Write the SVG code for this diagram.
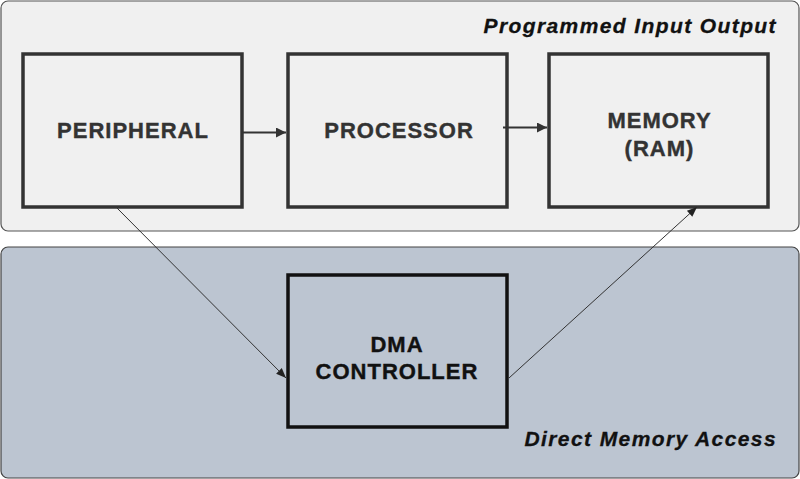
<svg xmlns="http://www.w3.org/2000/svg" width="800" height="479" viewBox="0 0 800 479">
<defs>
<style>
.lbl{font-family:"Liberation Sans",Arial,sans-serif;font-weight:bold;font-size:22px;letter-spacing:1px;text-anchor:middle;stroke-width:0.4px}
.ttl{font-family:"Liberation Sans",Arial,sans-serif;font-weight:bold;font-style:italic;font-size:21px;letter-spacing:1.4px;text-anchor:end;fill:#111;stroke:#111;stroke-width:0.3px}
.box{fill:none;stroke:#333;stroke-width:3.5}
.conn{stroke:#333;fill:none}
</style>
<marker id="ah" viewBox="0 0 10 10" refX="10" refY="5" markerWidth="10" markerHeight="10" markerUnits="userSpaceOnUse" orient="auto">
<path d="M0,0 L10,5 L0,10 Z" fill="#333"/>
</marker>
<marker id="ahs" viewBox="0 0 10 10" refX="10" refY="5" markerWidth="11" markerHeight="10" markerUnits="userSpaceOnUse" orient="auto">
<path d="M0,1 L10,5 L0,9 Z" fill="#222"/>
</marker>
</defs>
<g id="pio-group">
<rect x="1" y="1" width="798" height="230" rx="7" fill="#f0f0f0" stroke="#555" stroke-width="1.2"/>
<text class="ttl" x="777" y="32.5">Programmed Input Output</text>
</g>
<g id="dma-group">
<rect x="1" y="247" width="798" height="231" rx="7" fill="#bcc5d1" stroke="#444" stroke-width="1.2"/>
<text class="ttl" x="777" y="446">Direct Memory Access</text>
</g>
<g id="peripheral">
<rect class="box" x="23" y="54" width="219" height="153"/>
<text class="lbl" x="133" y="138" fill="#333" stroke="#333">PERIPHERAL</text>
</g>
<g id="processor">
<rect class="box" x="288" y="54" width="219" height="153"/>
<text class="lbl" x="399" y="138" fill="#333" stroke="#333">PROCESSOR</text>
</g>
<g id="memory">
<rect class="box" x="549" y="54" width="219" height="153"/>
<text class="lbl" x="659.5" y="128" fill="#333" stroke="#333">MEMORY</text>
<text class="lbl" x="659.5" y="156" fill="#333" stroke="#333">(RAM)</text>
</g>
<g id="dma-controller">
<rect x="288" y="275" width="219" height="152" fill="none" stroke="#111" stroke-width="3.5"/>
<text class="lbl" x="397" y="351.5" fill="#111" stroke="#111">DMA</text>
<text class="lbl" x="397" y="378.5" fill="#111" stroke="#111">CONTROLLER</text>
</g>
<g id="connectors">
<line class="conn" x1="243" y1="132.5" x2="286" y2="132.5" stroke-width="2" marker-end="url(#ah)"/>
<line class="conn" x1="503" y1="127.5" x2="547" y2="127.5" stroke-width="2" marker-end="url(#ah)"/>
<line class="conn" x1="116" y1="207" x2="286" y2="378" stroke-width="1" stroke="#222" marker-end="url(#ahs)"/>
<line class="conn" x1="509" y1="378" x2="697" y2="207" stroke-width="1" stroke="#222" marker-end="url(#ahs)"/>
</g>
</svg>
